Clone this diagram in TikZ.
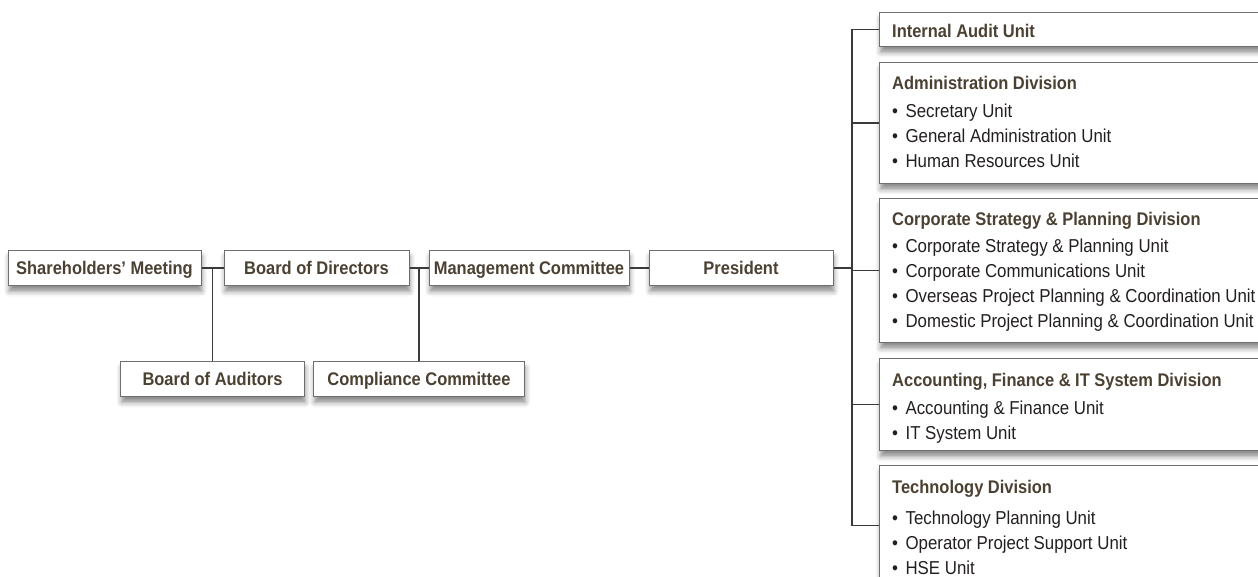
\documentclass[tikz,border=0pt]{standalone}
\usepackage{fontspec}
\setmainfont{Liberation Sans}[FakeStretch=0.9]
\usepackage{tikz}
\usetikzlibrary{positioning, shadows.blur}
\definecolor{boxline}{HTML}{6E6E6E}
\definecolor{linkline}{HTML}{3A3A3A}
\definecolor{headtext}{HTML}{4B4133}
\definecolor{bodytext}{HTML}{231F20}

\tikzset{
  boxshadow/.style={blur shadow={shadow xshift=1pt, shadow yshift=-6pt, shadow blur radius=5pt, shadow opacity=45}},
  orgbox/.style={draw=boxline, line width=1pt, fill=white, minimum height=35pt, inner sep=0pt,
    text height=16pt, text depth=3pt,
    font=\fontsize{18.3}{22}\selectfont\bfseries, text=headtext, boxshadow},
  unitbox/.style={draw=boxline, line width=1pt, fill=white, minimum width=420pt, inner sep=0pt,
    anchor=north west, boxshadow},
  unittext/.style={anchor=north west, inner sep=0pt, align=left, text=bodytext,
    font=\fontsize{18.7}{25}\selectfont},
  link/.style={draw=linkline, line width=1.1pt},
}
\newcommand{\unithead}[1]{\textcolor{headtext}{\fontsize{18.3}{25}\selectfont\bfseries #1}\strut}
\newcommand{\unititem}[1]{\strut•\hskip 7.5pt #1}

\begin{document}
\begin{tikzpicture}[x=1pt, y=-1pt]
\clip (0,0) rectangle (1258,577);

% top line of the chart
\node[orgbox, minimum width=193pt] (share) at (104.5,268) {Shareholders' Meeting};
\node[orgbox, minimum width=185pt] (board) at (316.5,268) {Board of Directors};
\node[orgbox, minimum width=200pt] (mgmt) at (529,268) {Management Committee};
\node[orgbox, minimum width=184pt] (pres) at (741,268) {President};

% committees below
\node[orgbox, minimum width=184pt] (auditors) at (212.5,379) {Board of Auditors};
\node[orgbox, minimum width=211pt] (compl) at (419,379) {Compliance Committee};

% divisions on the right
\node[unitbox, minimum height=34pt] (audit) at (879,12) {};
\node[unitbox, minimum height=121pt, below=15pt of audit.south west, anchor=north west] (admin) {};
\node[unitbox, minimum height=144pt, below=14pt of admin.south west, anchor=north west] (corp) {};
\node[unitbox, minimum height=92pt, below=15pt of corp.south west, anchor=north west] (acct) {};
\node[unitbox, minimum height=120pt, below=14pt of acct.south west, anchor=north west] (tech) {};

\node[unittext] (audittxt) at ([xshift=13pt, yshift=-8pt]audit.north west)
  {\unithead{Internal Audit Unit}};
\node[unittext] (admintxt) at ([xshift=13pt, yshift=-10pt]admin.north west)
  {\unithead{Administration Division}\\[3pt]
   \unititem{Secretary Unit}\\
   \unititem{General Administration Unit}\\
   \unititem{Human Resources Unit}};
\node[unittext] (corptxt) at ([xshift=13pt, yshift=-10pt]corp.north west)
  {\unithead{Corporate Strategy \& Planning Division}\\[2pt]
   \unititem{Corporate Strategy \& Planning Unit}\\
   \unititem{Corporate Communications Unit}\\
   \unititem{Overseas Project Planning \& Coordination Unit}\\
   \unititem{Domestic Project Planning \& Coordination Unit}};
\node[unittext] (accttxt) at ([xshift=13pt, yshift=-11pt]acct.north west)
  {\unithead{Accounting, Finance \& IT System Division}\\[3pt]
   \unititem{Accounting \& Finance Unit}\\
   \unititem{IT System Unit}};
\node[unittext] (techtxt) at ([xshift=13pt, yshift=-11pt]tech.north west)
  {\unithead{Technology Division}\\[6pt]
   \unititem{Technology Planning Unit}\\
   \unititem{Operator Project Support Unit}\\
   \unititem{HSE Unit}};

% connectors
\draw[link] (share.east) -- (board.west);
\draw[link] (board.east) -- (mgmt.west);
\draw[link] (mgmt.east) -- (pres.west);
\draw[link] (auditors.north) -- (auditors.north |- share.east);
\draw[link] (compl.north) -- (compl.north |- board.east);
\coordinate (bus) at (852,268);
\draw[link] (pres.east) -- (bus);
\draw[link] (audit.west) -| (bus |- tech.west) -- (tech.west);
\foreach \unit in {admin, corp, acct}
  \draw[link] (\unit.west) -- (\unit.west -| bus);
\end{tikzpicture}
\end{document}
